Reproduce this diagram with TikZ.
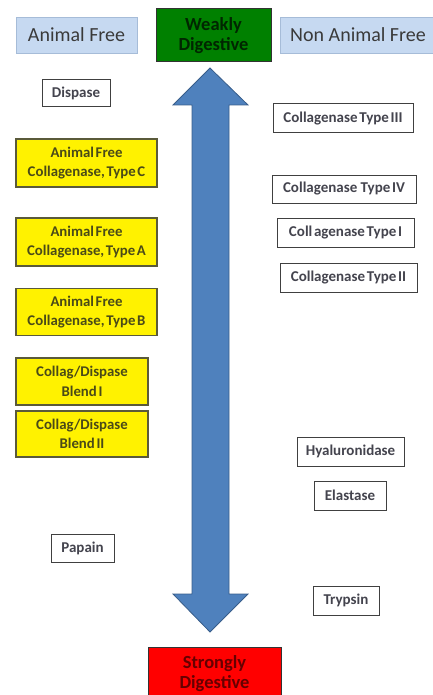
\documentclass[tikz,border=0pt]{standalone}
\usepackage{fontspec}
\setmainfont{Carlito}
\newfontfamily\tightfont{Carlito}[WordSpace=0.5]
\begin{document}
\begin{tikzpicture}[x=1pt,y=-1pt,
  every node/.style={inner sep=0pt, align=center},
  header/.style={draw=hdrline, fill=hdrfill, line width=0.8pt, font=\fontsize{20}{22}\selectfont, text=hdrtext},
  pole/.style={draw=black!80, line width=1pt, font=\bfseries\fontsize{18.5}{21}\selectfont},
  plain/.style={draw=black!75, fill=white, line width=1pt, font=\tightfont\bfseries\fontsize{15}{18}\selectfont, text=plaintext},
  yel/.style={draw=yelline, fill=yellow, line width=1.2pt, font=\tightfont\bfseries\fontsize{14.8}{19.5}\selectfont, text=yeltext}]
\definecolor{hdrfill}{HTML}{C6D9F1}
\definecolor{hdrline}{HTML}{A6BCD8}
\definecolor{hdrtext}{HTML}{3A3A3A}
\definecolor{yelline}{HTML}{5A5A3A}
\definecolor{yeltext}{HTML}{4A4A18}
\definecolor{plaintext}{HTML}{44444E}
\definecolor{arrfill}{HTML}{4F81BD}
\definecolor{arrline}{HTML}{385D8A}
\useasboundingbox (0,0) rectangle (433,695);
% double arrow
\filldraw[fill=arrfill, draw=arrline, line width=0.8pt]
  (210,68) -- (248,105) -- (229,105) -- (229,594) -- (248,594) -- (210,632)
  -- (173,594) -- (192,594) -- (192,105) -- (173,105) -- cycle;
% headers
\node[header, minimum width=121pt, minimum height=36pt] (haf) at (76.5,35) {Animal Free};
\node[header, minimum width=156pt, minimum height=36pt] (hnaf) at (358,35) {Non Animal Free};
\node[pole, fill=green!50!black, text=black!85!green, minimum width=115pt, minimum height=53pt] (weak) at (213.5,35.5) {Weakly\\[-1pt]Digestive};
\node[pole, fill=red, text=black!60!red, minimum width=133pt, minimum height=53pt] (strong) at (214.5,674) {Strongly\\[-1pt]Digestive};
% left column
\node[plain, minimum width=68pt, minimum height=27pt] (dispase) at (76,93.5) {Dispase};
\node[yel, minimum width=141pt, minimum height=48pt] (afc) at (86.5,163) {Animal Free\\Collagenase, Type C};
\node[yel, minimum width=141pt, minimum height=48pt] (afa) at (86.5,242) {Animal Free\\Collagenase, Type A};
\node[yel, minimum width=141pt, minimum height=47pt] (afb) at (86.5,312) {Animal Free\\Collagenase, Type B};
\node[yel, minimum width=132pt, minimum height=47pt] (b1) at (82,381.5) {Collag/Dispase\\Blend I};
\node[yel, minimum width=132pt, minimum height=46pt] (b2) at (82,434) {Collag/Dispase\\Blend II};
\node[plain, minimum width=63pt, minimum height=28pt] (papain) at (82.5,548) {Papain};
% right column
\node[plain, minimum width=140pt, minimum height=29pt] (c3) at (343,118.5) {Collagenase Type III};
\node[plain, minimum width=144pt, minimum height=28pt] (c4) at (344,189) {Collagenase\ \ Type IV};
\node[plain, minimum width=137pt, minimum height=29pt] (c1) at (345.5,232.5) {Coll agenase Type I};
\node[plain, minimum width=137pt, minimum height=29pt] (c2) at (348.5,277.5) {Collagenase Type II};
\node[plain, minimum width=107pt, minimum height=29pt] (hyal) at (350.5,451.5) {Hyaluronidase};
\node[plain, minimum width=72pt, minimum height=29pt] (elast) at (350,495.5) {Elastase};
\node[plain, minimum width=66pt, minimum height=29pt] (tryp) at (346,600.5) {Trypsin};
\end{tikzpicture}
\end{document}
